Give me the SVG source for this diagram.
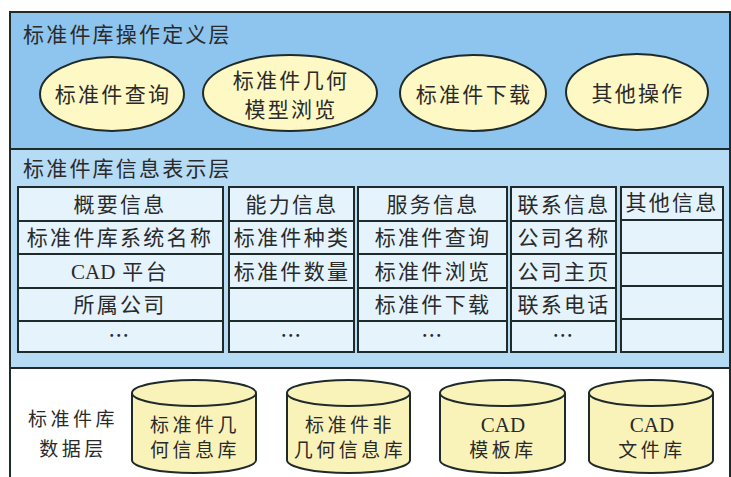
<svg xmlns="http://www.w3.org/2000/svg" width="731" height="477" viewBox="0 0 731 477">
<style>
.t{font-family:"Noto Sans CJK SC","Noto Sans",sans-serif;font-size:21px;fill:#2a2a2a;text-anchor:middle;letter-spacing:2.3px}
.c{font-family:"Noto Sans CJK SC","Noto Sans",sans-serif;font-size:19px;fill:#2a2a2a;text-anchor:middle;letter-spacing:3.5px}
.tl{font-family:"Noto Sans CJK SC","Noto Sans",sans-serif;font-size:21px;fill:#2a2a2a;letter-spacing:2.2px}
.en{font-family:"Liberation Serif",serif;font-size:21px;letter-spacing:0}
.ln{fill:none;stroke:#1f2b2b;stroke-width:2}
.ell{fill:#fdf8c4;stroke:#1f2b2b;stroke-width:2}
.cyl{fill:#f9f3ba;stroke:#1f2b2b;stroke-width:2}
.cell{fill:#e4f3fc;stroke:#1f2b2b;stroke-width:2}
</style>
<rect width="731" height="477" fill="#ffffff"/>
<g id="layer-operation">
<rect x="10" y="12" width="720" height="137" fill="#8ec5ee" stroke="#1f2b2b" stroke-width="2"/>
<text class="tl" x="23" y="42">标准件库操作定义层</text>
</g>
<g id="layer-info">
<rect x="10" y="149" width="720" height="219" fill="#b6dcf5" stroke="#1f2b2b" stroke-width="2"/>
<text class="tl" x="23" y="176">标准件库信息表示层</text>
</g>
<g id="layer-data">
<rect x="10" y="368" width="720" height="112" fill="#ffffff" stroke="#1f2b2b" stroke-width="2"/>
<text class="c" x="73" y="426">标准件库</text>
<text class="c" x="73" y="456">数据层</text>
</g>
<g id="op-query">
<ellipse class="ell" cx="112" cy="94" rx="72" ry="37"/>
<text class="t" x="113" y="102">标准件查询</text>
</g>
<g id="op-browse">
<ellipse class="ell" cx="290" cy="93" rx="87" ry="38"/>
<text class="t" x="291" y="88">标准件几何</text>
<text class="t" x="291" y="117">模型浏览</text>
</g>
<g id="op-download">
<ellipse class="ell" cx="473" cy="93" rx="73" ry="38"/>
<text class="t" x="474" y="102">标准件下载</text>
</g>
<g id="op-other">
<ellipse class="ell" cx="637" cy="92" rx="71" ry="38"/>
<text class="t" x="638" y="101">其他操作</text>
</g>
<g id="col-overview">
<rect class="cell" x="18" y="187" width="205" height="165"/>
<path class="ln" d="M18 221H223M18 254H223M18 288H223M18 321H223"/>
<text class="t" x="120" y="212">概要信息</text>
<text class="t" x="120" y="245">标准件库系统名称</text>
<text class="t" x="120" y="279"><tspan class="en">CAD</tspan> 平台</text>
<text class="t" x="120" y="312">所属公司</text>
<text class="t" x="120" y="343">…</text>
</g>
<g id="col-capability">
<rect class="cell" x="229" y="187" width="125" height="165"/>
<path class="ln" d="M229 221H354M229 254H354M229 288H354M229 321H354"/>
<text class="t" x="292" y="212">能力信息</text>
<text class="t" x="292" y="245">标准件种类</text>
<text class="t" x="292" y="279">标准件数量</text>
<text class="t" x="292" y="343">…</text>
</g>
<g id="col-service">
<rect class="cell" x="358" y="187" width="149" height="165"/>
<path class="ln" d="M358 221H507M358 254H507M358 288H507M358 321H507"/>
<text class="t" x="433" y="212">服务信息</text>
<text class="t" x="433" y="245">标准件查询</text>
<text class="t" x="433" y="279">标准件浏览</text>
<text class="t" x="433" y="312">标准件下载</text>
<text class="t" x="433" y="343">…</text>
</g>
<g id="col-contact">
<rect class="cell" x="511" y="187" width="105" height="165"/>
<path class="ln" d="M511 221H616M511 254H616M511 288H616M511 321H616"/>
<text class="t" x="564" y="212">联系信息</text>
<text class="t" x="564" y="245">公司名称</text>
<text class="t" x="564" y="279">公司主页</text>
<text class="t" x="564" y="312">联系电话</text>
<text class="t" x="564" y="343">…</text>
</g>
<g id="col-other">
<rect class="cell" x="621" y="187" width="102" height="165"/>
<path class="ln" d="M621 220H723M621 253H723M621 286H723M621 319H723"/>
<text class="t" x="672" y="210">其他信息</text>
</g>
<g id="db-geometry">
<path class="cyl" d="M132 393V460A62 13 0 0 0 256 460V393"/>
<ellipse class="cyl" cx="194" cy="393" rx="62" ry="13"/>
<text class="c" x="195" y="432">标准件几</text>
<text class="c" x="195" y="457">何信息库</text>
</g>
<g id="db-nongeometry">
<path class="cyl" d="M287 393V460A61.5 13 0 0 0 410 460V393"/>
<ellipse class="cyl" cx="348.5" cy="393" rx="61.5" ry="13"/>
<text class="c" x="350" y="432">标准件非</text>
<text class="c" x="350" y="457">几何信息库</text>
</g>
<g id="db-template">
<path class="cyl" d="M440 393V460A62.5 13 0 0 0 565 460V393"/>
<ellipse class="cyl" cx="502.5" cy="393" rx="62.5" ry="13"/>
<text class="c" x="503" y="432"><tspan class="en">CAD</tspan></text>
<text class="c" x="503" y="457">模板库</text>
</g>
<g id="db-files">
<path class="cyl" d="M589 393V460A62 13 0 0 0 713 460V393"/>
<ellipse class="cyl" cx="651" cy="393" rx="62" ry="13"/>
<text class="c" x="652" y="432"><tspan class="en">CAD</tspan></text>
<text class="c" x="652" y="457">文件库</text>
</g>
<g id="connectors"></g>
</svg>
